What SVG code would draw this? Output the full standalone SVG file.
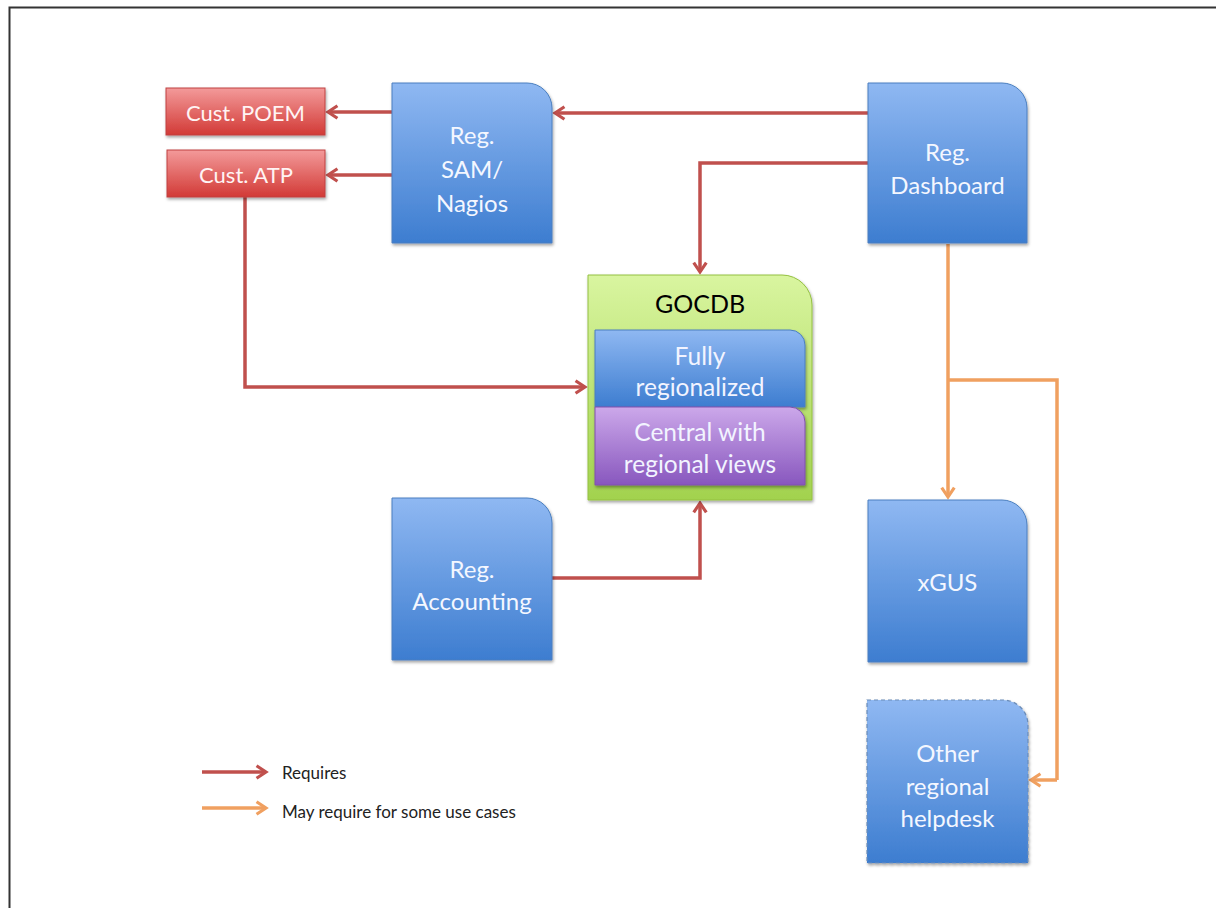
<svg xmlns="http://www.w3.org/2000/svg" width="1216" height="908" viewBox="0 0 1216 908">
<style>
.t{font-family:Lato,"Open Sans","Liberation Sans",sans-serif;text-anchor:middle;dominant-baseline:central}
.w{fill:#f4f7ff;font-size:24px}
.s{fill:#fff4f4;font-size:22px}
.k{fill:#000;font-size:25px}
.g{fill:#f2f4ff;font-size:24.5px}
.lg{font-family:Lato,"Open Sans","Liberation Sans",sans-serif;font-size:17px;fill:#222;dominant-baseline:central}
.red{fill:none;stroke:#c0504d;stroke-width:3.5;marker-end:url(#ar)}
.or{fill:none;stroke:#f0a060;stroke-width:3.5}
.ora{fill:none;stroke:#f0a060;stroke-width:3.5;marker-end:url(#ao)}
.blue{fill:url(#gb);stroke:#4a7fc0;stroke-width:1;filter:url(#sh)}
</style>
<defs>
<linearGradient id="gb" x1="0" y1="0" x2="0" y2="1"><stop offset="0" stop-color="#8fb8f2"/><stop offset="1" stop-color="#3d7dd0"/></linearGradient>
<linearGradient id="gr" x1="0" y1="0" x2="0" y2="1"><stop offset="0" stop-color="#f39a9a"/><stop offset="1" stop-color="#d23a36"/></linearGradient>
<linearGradient id="gg" x1="0" y1="0" x2="0" y2="1"><stop offset="0" stop-color="#d9f5a0"/><stop offset="1" stop-color="#a2d24e"/></linearGradient>
<linearGradient id="gp" x1="0" y1="0" x2="0" y2="1"><stop offset="0" stop-color="#cca8ea"/><stop offset="1" stop-color="#8857be"/></linearGradient>
<filter id="sh" x="-10%" y="-10%" width="125%" height="125%"><feDropShadow dx="1" dy="2" stdDeviation="1.5" flood-color="#000" flood-opacity="0.35"/></filter>
<marker id="ar" viewBox="0 0 10 10" refX="8" refY="5" markerWidth="4.5" markerHeight="4.5" orient="auto" markerUnits="strokeWidth"><path d="M2,1 L8,5 L2,9" fill="none" stroke="#c0504d" stroke-width="2"/></marker>
<marker id="ao" viewBox="0 0 10 10" refX="8" refY="5" markerWidth="4.5" markerHeight="4.5" orient="auto" markerUnits="strokeWidth"><path d="M2,1 L8,5 L2,9" fill="none" stroke="#f0a060" stroke-width="2"/></marker>
</defs>
<rect width="1216" height="908" fill="#fff"/>
<path d="M9.5,908 V7.5 H1216" fill="none" stroke="#333" stroke-width="2"/>

<g id="connectors">
<path class="red" d="M392,112 H328"/>
<path class="red" d="M392,175 H328"/>
<path class="red" d="M868,113 H555"/>
<path class="red" d="M868,163 H700 V272"/>
<path class="red" d="M245,197 V387 H585"/>
<path class="red" d="M552,578 H700 V503"/>
<path class="ora" d="M948,244 V497"/>
<path class="or" d="M948,380 H1057 V780"/>
<path class="ora" d="M1057,780 H1031"/>
</g>

<g id="cust-poem"><rect x="166" y="88" width="159" height="47" fill="url(#gr)" stroke="#c04040" filter="url(#sh)"/><text class="t s" x="245.5" y="112">Cust. POEM</text></g>
<g id="cust-atp"><rect x="167" y="150" width="158" height="47" fill="url(#gr)" stroke="#c04040" filter="url(#sh)"/><text class="t s" x="246" y="174">Cust. ATP</text></g>

<g id="reg-sam"><path class="blue" d="M392,83 H527 A25,25 0 0 1 552,108 V243 H392 Z"/><text class="t w" x="472" y="134">Reg.</text><text class="t w" x="472" y="168">SAM/</text><text class="t w" x="472" y="202">Nagios</text></g>

<g id="reg-dashboard"><path class="blue" d="M868,83 H1002 A25,25 0 0 1 1027,108 V243 H868 Z"/><text class="t w" x="947.5" y="151">Reg.</text><text class="t w" x="947.5" y="184">Dashboard</text></g>

<g id="gocdb"><path d="M588,275 H782 A30,30 0 0 1 812,305 V500 H588 Z" fill="url(#gg)" stroke="#94c040" stroke-width="1" filter="url(#sh)"/><text class="t k" x="700" y="303">GOCDB</text>
<path d="M595,330 H790 A15,15 0 0 1 805,345 V407 H595 Z" fill="url(#gb)" stroke="#4a7fc0" stroke-width="1" filter="url(#sh)"/><text class="t g" x="700" y="355">Fully</text><text class="t g" x="700" y="386">regionalized</text>
<path d="M595,407 H790 A15,15 0 0 1 805,422 V485 H595 Z" fill="url(#gp)" stroke="#8050b0" stroke-width="1" filter="url(#sh)"/><text class="t g" x="700" y="431">Central with</text><text class="t g" x="700" y="463">regional views</text></g>

<g id="reg-accounting"><path class="blue" d="M392,498 H527 A25,25 0 0 1 552,523 V660 H392 Z"/><text class="t w" x="472" y="568">Reg.</text><text class="t w" x="472" y="600">Accounting</text></g>

<g id="xgus"><path class="blue" d="M868,500 H1002 A25,25 0 0 1 1027,525 V662 H868 Z"/><text class="t w" x="947.5" y="581">xGUS</text></g>

<g id="other-helpdesk"><path d="M867,700 H1003 A25,25 0 0 1 1028,725 V863 H867 Z" fill="url(#gb)" stroke="#6a8cb8" stroke-width="1.2" stroke-dasharray="4,3" filter="url(#sh)"/><text class="t w" x="947.5" y="752">Other</text><text class="t w" x="947.5" y="785">regional</text><text class="t w" x="947.5" y="817">helpdesk</text></g>

<g id="legend">
<path class="red" d="M202,772 H266"/><text class="lg" x="282" y="772">Requires</text>
<path class="ora" d="M202,808 H266"/><text class="lg" x="282" y="811">May require for some use cases</text>
</g>
</svg>
